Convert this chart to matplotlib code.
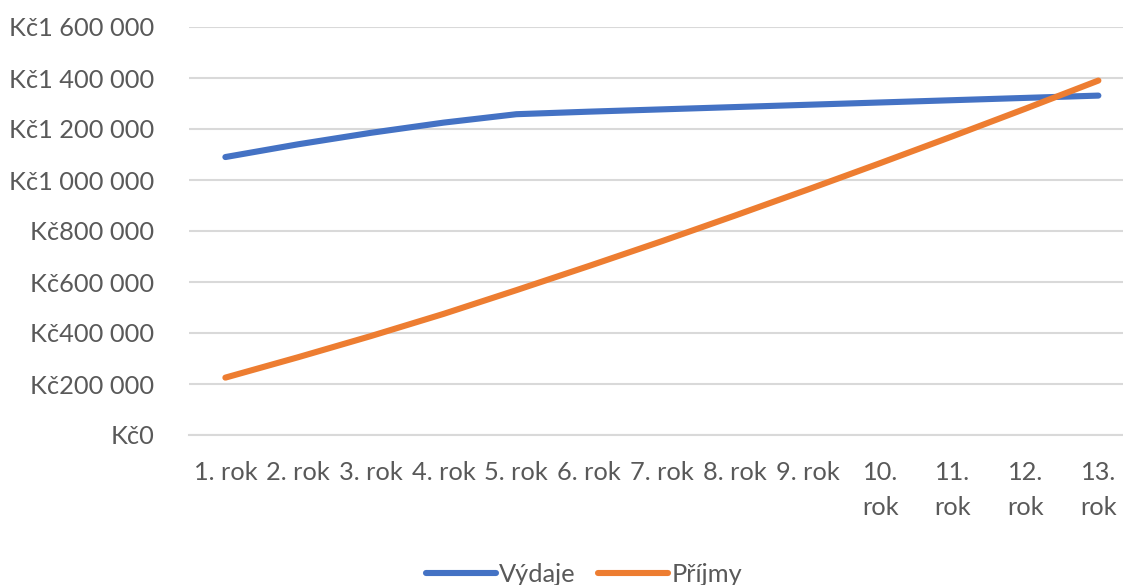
import matplotlib
matplotlib.use("Agg")
import matplotlib.pyplot as plt

# Data
years = ["1. rok", "2. rok", "3. rok", "4. rok", "5. rok", "6. rok", "7. rok",
         "8. rok", "9. rok", "10. rok", "11. rok", "12. rok", "13. rok"]
vydaje = [1090000, 1140000, 1185000, 1225000, 1258000, 1268000, 1277000,
          1286000, 1295000, 1304000, 1313000, 1322000, 1331000]
prijmy = [225000, 305000, 388000, 475000, 568000, 663000, 760000,
          860000, 962000, 1066000, 1172000, 1280000, 1390000]
ytick_values = [0, 200000, 400000, 600000, 800000, 1000000, 1200000, 1400000, 1600000]
ytick_labels = ["Kč0", "Kč200 000", "Kč400 000", "Kč600 000", "Kč800 000",
                "Kč1 000 000", "Kč1 200 000", "Kč1 400 000", "Kč1 600 000"]

TEXT = "#595959"
GRID = "#D9D9D9"
BLUE = "#4472C4"
ORANGE = "#ED7D31"

plt.rcParams["font.family"] = ["Lato", "DejaVu Sans"]
FS = 18.3

W, H = 1123, 585
fig = plt.figure(figsize=(W / 100, H / 100), dpi=100)
left_px, top_px, bottom_px = 189, 27, 435
step_px = 72.75
ax = fig.add_axes([left_px / W, 1 - bottom_px / H,
                   13 * step_px / W, (bottom_px - top_px) / H])

x = list(range(len(years)))
ax.plot(x, vydaje, color=BLUE, lw=4.4, solid_capstyle="round",
        solid_joinstyle="round", label="Výdaje", zorder=3)
ax.plot(x, prijmy, color=ORANGE, lw=4.4, solid_capstyle="round",
        solid_joinstyle="round", label="Příjmy", zorder=4)

ax.set_xlim(-0.5, len(years) - 0.5)
ax.set_ylim(0, 1600000)
ax.set_yticks(ytick_values)
ax.set_yticklabels(ytick_labels)

# long category names wrap onto two lines
xlabels = [lab.replace(". ", ".\n") if len(lab) > 6 else lab for lab in years]
ax.set_xticks(x)
ax.set_xticklabels(xlabels, linespacing=1.6)

ax.grid(axis="y", color=GRID, lw=1.5)
ax.set_axisbelow(True)
for s in ["top", "right", "left"]:
    ax.spines[s].set_visible(False)
ax.spines["bottom"].set_color(GRID)
ax.spines["bottom"].set_linewidth(1.5)
ax.tick_params(axis="both", length=0, labelsize=FS, labelcolor=TEXT)
ax.tick_params(axis="y", pad=25)
ax.tick_params(axis="x", pad=19)
for t in ax.get_xticklabels():
    t.set_verticalalignment("top")

leg = fig.legend(loc="center", bbox_to_anchor=(584 / W, 1 - 574 / H), ncol=2,
                 frameon=False, fontsize=FS, handlelength=2.75, handletextpad=0.12,
                 columnspacing=0.9, labelcolor=TEXT)

fig.savefig("out.png", dpi=100)
